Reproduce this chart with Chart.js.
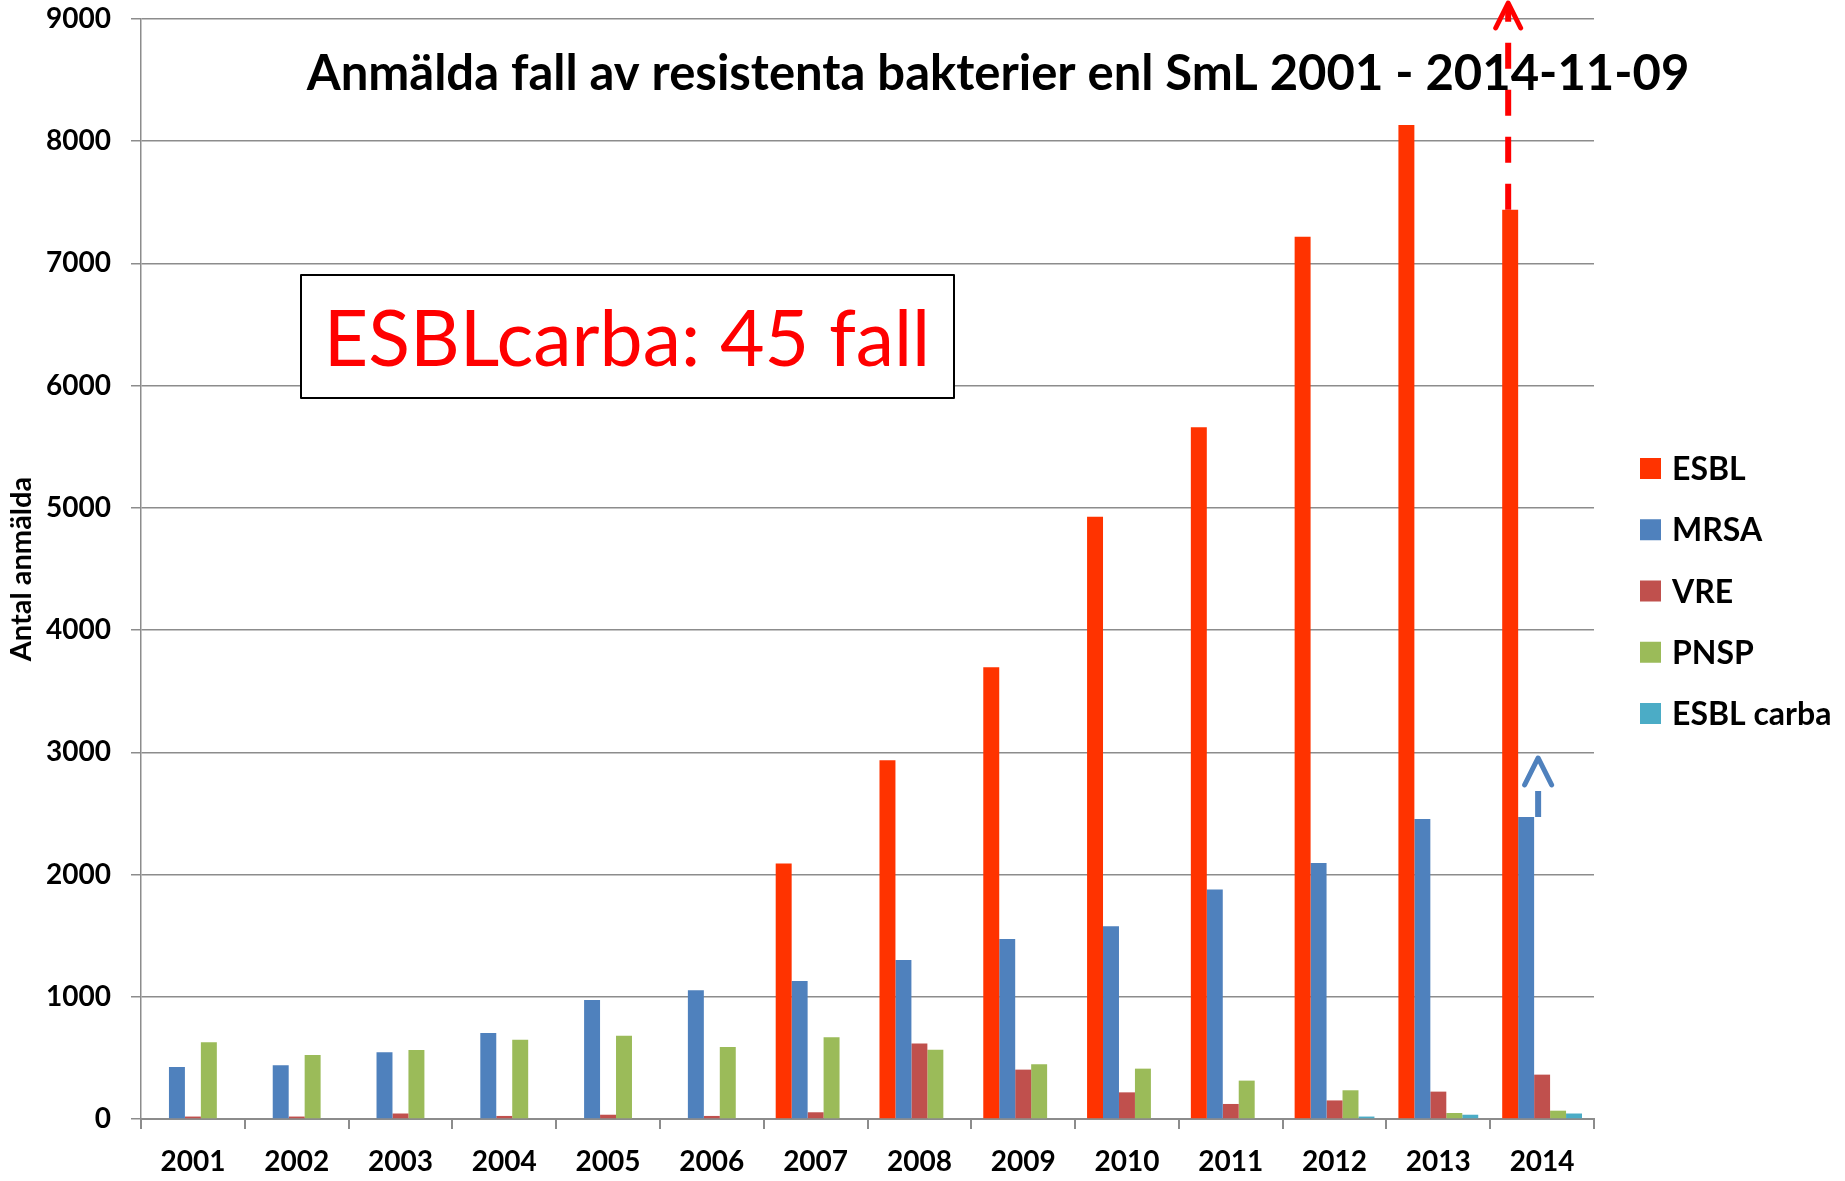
<!DOCTYPE html>
<html><head><meta charset="utf-8">
<script src="https://cdn.jsdelivr.net/npm/chart.js@4"></script>
<style>html,body{margin:0;padding:0;background:#fff}</style>
</head><body>
<canvas id="c" width="1845" height="1181"></canvas>
<script>
const categories = ['2001','2002','2003','2004','2005','2006','2007','2008','2009','2010','2011','2012','2013','2014'];
const esbl  = [null,null,null,null,null,null,2090,2935,3696,4928,5659,7218,8133,7440];
const mrsa  = [425,439,546,704,974,1053,1129,1301,1473,1578,1877,2095,2455,2471];
const vre   = [20,20,45,25,35,25,55,617,404,218,123,152,224,363];
const pnsp  = [627,524,565,649,682,589,668,567,447,412,314,235,49,68];
const carba = [null,null,null,null,null,null,null,null,null,null,null,20,35,45];
const seriesNames = ['ESBL','MRSA','VRE','PNSP','ESBL carba'];
const seriesColors = ['#FF3300','#4F81BD','#C0504D','#9BBB59','#4BACC6'];
const titleText = 'Anmälda fall av resistenta bakterier enl SmL 2001 - 2014-11-09';
const noteText = 'ESBLcarba: 45 fall';
const yTitle = 'Antal anmälda';

const FONT = 'Lato, "Open Sans", sans-serif';

function arrowHead(ctx, x, tipY, half, depth) {
  ctx.beginPath();
  ctx.moveTo(x - half, tipY + depth);
  ctx.lineTo(x, tipY);
  ctx.lineTo(x + half, tipY + depth);
  ctx.stroke();
}

const annot = {
  id: 'annot',
  afterDraw(chart) {
    const ctx = chart.ctx;
    const y = chart.scales.y;
    ctx.save();
    // red dashed arrow on ESBL 2014
    const eBar = chart.getDatasetMeta(0).data[13];
    const tipR = y.getPixelForValue(9000) - 16;
    ctx.strokeStyle = '#FF0000';
    ctx.lineWidth = 6;
    ctx.setLineDash([26, 21]);
    ctx.lineCap = 'butt';
    ctx.beginPath();
    ctx.moveTo(eBar.x - 2, eBar.y);
    ctx.lineTo(eBar.x - 2, tipR + 4);
    ctx.stroke();
    ctx.setLineDash([]);
    ctx.lineCap = 'round';
    ctx.lineJoin = 'round';
    ctx.lineWidth = 5;
    arrowHead(ctx, eBar.x - 2, tipR, 12.5, 25);
    // blue arrow on MRSA 2014
    const mBar = chart.getDatasetMeta(1).data[13];
    const bx = mBar.x + mBar.width / 2 + 4;
    ctx.strokeStyle = '#4F81BD';
    ctx.lineWidth = 6;
    ctx.lineCap = 'butt';
    ctx.beginPath();
    ctx.moveTo(bx, mBar.y);
    ctx.lineTo(bx, mBar.y - 26);
    ctx.stroke();
    ctx.lineCap = 'round';
    ctx.lineWidth = 5;
    arrowHead(ctx, bx, mBar.y - 59, 13.5, 27);

    // title
    ctx.fillStyle = '#000';
    ctx.font = 'bold 49px ' + FONT;
    ctx.textAlign = 'center';
    ctx.textBaseline = 'alphabetic';
    ctx.fillText(titleText, 998, 90);

    // note box
    ctx.fillStyle = '#fff';
    ctx.fillRect(301, 275, 653, 123);
    ctx.strokeStyle = '#000';
    ctx.lineWidth = 2;
    ctx.strokeRect(301, 275, 653, 123);
    ctx.fillStyle = '#FF0000';
    ctx.font = '77px ' + FONT;
    ctx.fillText(noteText, 627, 366);

    // legend
    ctx.textAlign = 'left';
    ctx.font = 'bold 32px ' + FONT;
    chart.data.datasets.forEach((ds, i) => {
      const base = 480 + i * 61.25;
      ctx.fillStyle = ds.backgroundColor;
      ctx.fillRect(1640, base - 22, 21, 21);
      ctx.fillStyle = '#000';
      ctx.fillText(ds.label, 1672, base);
    });
    ctx.restore();
  }
};

const seriesData = [esbl, mrsa, vre, pnsp, carba];
new Chart(document.getElementById('c'), {
  type: 'bar',
  data: {
    labels: categories,
    datasets: seriesData.map((d, i) => ({
      label: seriesNames[i], data: d, backgroundColor: seriesColors[i], borderWidth: 0
    }))
  },
  options: {
    responsive: false, animation: false, devicePixelRatio: 1,
    layout: { padding: { top: 19, right: 251, left: 0, bottom: 0 } },
    datasets: { bar: { categoryPercentage: 0.769, barPercentage: 1 } },
    plugins: { legend: { display: false }, title: { display: false }, tooltip: { enabled: false } },
    scales: {
      x: {
        grid: { display: true, drawOnChartArea: false, offset: true, tickLength: 10, color: '#8c8c8c', lineWidth: 2 },
        border: { color: '#8c8c8c', width: 2 },
        ticks: { font: { family: FONT, weight: 'bold', size: 28 }, color: '#000', padding: 16, maxRotation: 0 },
        afterFit(s) { s.height = 62; s.paddingLeft = 0; s.paddingRight = 0; }
      },
      y: {
        min: 0, max: 9000,
        ticks: { stepSize: 1000, font: { family: FONT, weight: 'bold', size: 28 }, color: '#000', padding: 20, callback: v => String(v) },
        grid: { color: '#8c8c8c', lineWidth: 1.5, tickLength: 10 },
        border: { color: '#8c8c8c', width: 1.5 },
        title: { display: true, text: yTitle, font: { family: FONT, weight: 'bold', size: 29 }, color: '#000', padding: { top: 4, bottom: 0 } },
        afterFit(s) { s.width = 141; s.paddingTop = 0; s.paddingBottom = 0; }
      }
    }
  },
  plugins: [annot]
});
</script>
</body></html>
